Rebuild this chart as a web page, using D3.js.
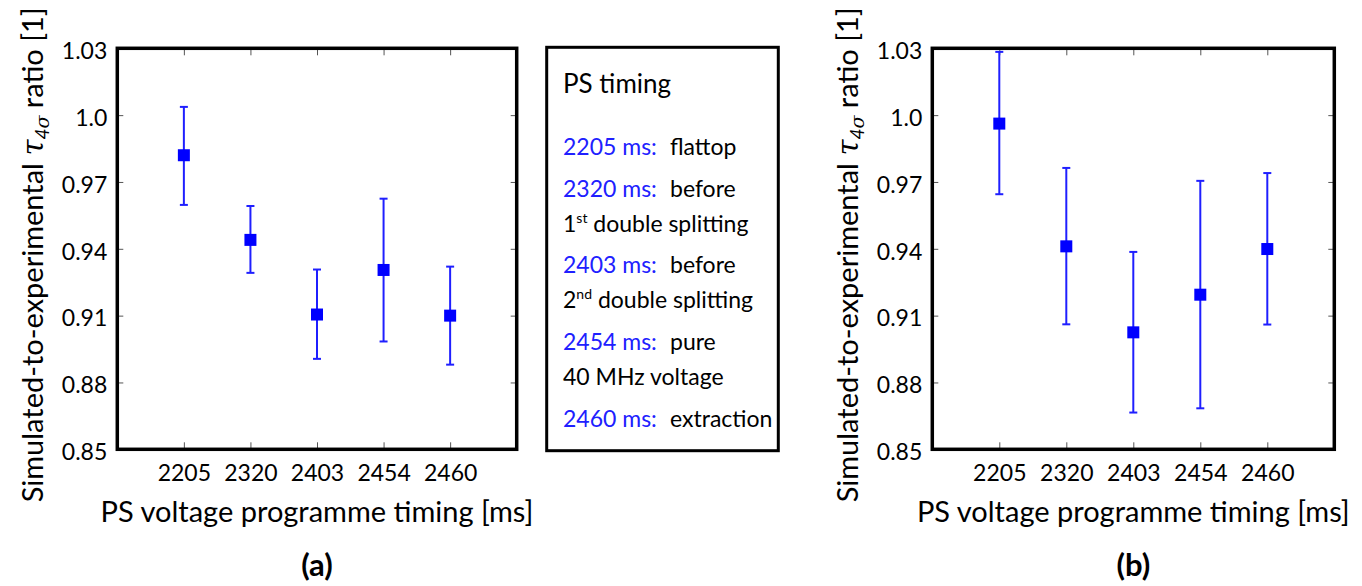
<!DOCTYPE html>
<html>
<head>
<meta charset="utf-8">
<script src="https://cdn.jsdelivr.net/npm/d3@7"></script>
<style>
  html, body { margin: 0; padding: 0; background: #fff; }
  svg { display: block; }
  text { font-family: Lato, "Open Sans", sans-serif; }
</style>
</head>
<body>
<svg id="chart" width="1362" height="586"></svg>
<script>
// ---- data ----
const categories = ["2205", "2320", "2403", "2454", "2460"];
const valuesA = [0.982, 0.944, 0.9105, 0.9305, 0.910];
const upperA  = [1.0037, 0.9592, 0.9307, 0.9625, 0.932];
const lowerA  = [0.9597, 0.9292, 0.8906, 0.8984, 0.888];
const valuesB = [0.9962, 0.9411, 0.9025, 0.9194, 0.9399];
const upperB  = [1.0284, 0.9763, 0.9386, 0.9705, 0.974];
const lowerB  = [0.9645, 0.9061, 0.8665, 0.8684, 0.906];
const yTickValues = [0.85, 0.88, 0.91, 0.94, 0.97, 1.0, 1.03];
const yTickLabels = ["0.85", "0.88", "0.91", "0.94", "0.97", "1.0", "1.03"];
const legendTitle = "PS timing";
const legendTimes = ["2205 ms:", "2320 ms:", "2403 ms:", "2454 ms:", "2460 ms:"];
const legendDescs = ["flattop", "before", "before", "pure", "extraction"];
const legendSecond = [null, ["1", "st", " double splitting"], ["2", "nd", " double splitting"], ["40 MHz voltage", null, null], null];
const xTitle = "PS voltage programme timing [ms]";
const panelLabels = ["(a)", "(b)"];

const svg = d3.select("#chart");
const BLUE = "#0000ff";
const BLUE_LINE = "#1f1fff";
const BLUE_TEXT = "#2020ff";

function drawPanel(left, right, top, bottom, vals, up, lo, label) {
  const g = svg.append("g");
  const x = d3.scaleLinear().domain([0, categories.length + 1]).range([left, right]);
  const y = d3.scaleLinear().domain([0.85, 1.03]).range([bottom, top]);
  const idx = categories.map((c, i) => i + 1);

  const tickStyle = sel => {
    sel.select(".domain").remove();
    sel.selectAll(".tick line").attr("stroke", "#555").attr("stroke-width", 1);
    sel.selectAll(".tick text").attr("fill", "#000").style("font-size", "23px")
      .style("font-family", "Lato, 'Open Sans', sans-serif");
  };

  g.append("g").attr("transform", `translate(0,${bottom})`)
    .call(d3.axisBottom(x).tickValues(idx).tickFormat(i => categories[i - 1]).tickSizeInner(-7).tickSizeOuter(0).tickPadding(15))
    .call(tickStyle);
  g.append("g").attr("transform", `translate(0,${top})`)
    .call(d3.axisTop(x).tickValues(idx).tickFormat("").tickSizeInner(-7).tickSizeOuter(0))
    .call(tickStyle);
  g.append("g").attr("transform", `translate(${left},0)`)
    .call(d3.axisLeft(y).tickValues(yTickValues).tickFormat((d, i) => yTickLabels[i]).tickSizeInner(-6).tickSizeOuter(0).tickPadding(10))
    .call(tickStyle)
    .call(s => s.selectAll(".tick text").attr("dy", "0.45em"));
  g.append("g").attr("transform", `translate(${right},0)`)
    .call(d3.axisRight(y).tickValues(yTickValues).tickFormat("").tickSizeInner(-6).tickSizeOuter(0))
    .call(tickStyle);

  // frame
  g.append("rect").attr("x", left).attr("y", top).attr("width", right - left).attr("height", bottom - top)
    .attr("fill", "none").attr("stroke", "#000").attr("stroke-width", 3.5);

  // error bars
  const eb = g.append("g").selectAll("g").data(vals.map((v, i) => ({ i: i + 1, v, u: up[i], l: lo[i] }))).join("g");
  eb.append("line").attr("x1", d => x(d.i)).attr("x2", d => x(d.i)).attr("y1", d => y(d.u)).attr("y2", d => y(d.l))
    .attr("stroke", BLUE_LINE).attr("stroke-width", 2);
  eb.append("line").attr("x1", d => x(d.i) - 4).attr("x2", d => x(d.i) + 4).attr("y1", d => y(d.u)).attr("y2", d => y(d.u))
    .attr("stroke", BLUE_LINE).attr("stroke-width", 2);
  eb.append("line").attr("x1", d => x(d.i) - 4).attr("x2", d => x(d.i) + 4).attr("y1", d => y(d.l)).attr("y2", d => y(d.l))
    .attr("stroke", BLUE_LINE).attr("stroke-width", 2);
  eb.append("rect").attr("x", d => x(d.i) - 6).attr("y", d => y(d.v) - 6).attr("width", 12).attr("height", 12)
    .attr("fill", BLUE);

  // y title
  const cx = (left + right) / 2;
  const yt = g.append("text").attr("transform", `translate(${left - 74.6},${(top + bottom) / 2 + 6}) rotate(-90)`)
    .attr("text-anchor", "middle").style("font-size", "29px").attr("fill", "#000");
  yt.append("tspan").text("Simulated-to-experimental ");
  yt.append("tspan").text("τ").style("font-style", "italic").style("font-family", "'DejaVu Serif', serif");
  yt.append("tspan").text("4").attr("baseline-shift", "-6").style("font-size", "19px").style("font-style", "italic");
  yt.append("tspan").text("σ").attr("baseline-shift", "-6").style("font-size", "19px").style("font-style", "italic").style("font-family", "'DejaVu Serif', serif");
  yt.append("tspan").text(" ratio [1]");

  // x title
  g.append("text").attr("x", cx).attr("y", 522).attr("text-anchor", "middle").style("font-size", "29px").text(xTitle);
  // panel label
  g.append("text").attr("x", cx).attr("y", 576).attr("text-anchor", "middle").style("font-size", "31px")
    .style("font-weight", "bold").text(label);
}

drawPanel(117.3, 516.7, 48.3, 449.3, valuesA, upperA, lowerA, panelLabels[0]);
drawPanel(932.3, 1334.3, 48.3, 449.3, valuesB, upperB, lowerB, panelLabels[1]);

// legend box
const lg = svg.append("g");
lg.append("rect").attr("x", 546.7).attr("y", 47.3).attr("width", 231.6).attr("height", 403.4)
  .attr("fill", "none").attr("stroke", "#000").attr("stroke-width", 3);
lg.append("text").attr("x", 563).attr("y", 93).style("font-size", "26px").text(legendTitle);
const rowBase = [155, 196.7, 273.3, 350, 426.7];
const secondBase = [null, 231.7, 308.3, 385, null];
legendTimes.forEach((t, i) => {
  lg.append("text").attr("x", 563).attr("y", rowBase[i]).style("font-size", "23px").attr("fill", BLUE_TEXT).text(t);
  lg.append("text").attr("x", 670).attr("y", rowBase[i]).style("font-size", "23px").attr("fill", "#000").text(legendDescs[i]);
  const s = legendSecond[i];
  if (s) {
    const tx = lg.append("text").attr("x", 563).attr("y", secondBase[i]).style("font-size", "23px").attr("fill", "#000");
    tx.append("tspan").text(s[0]);
    if (s[1]) {
      tx.append("tspan").text(s[1]).attr("baseline-shift", "9").style("font-size", "14px");
      tx.append("tspan").text(s[2]);
    }
  }
});
</script>
</body>
</html>
